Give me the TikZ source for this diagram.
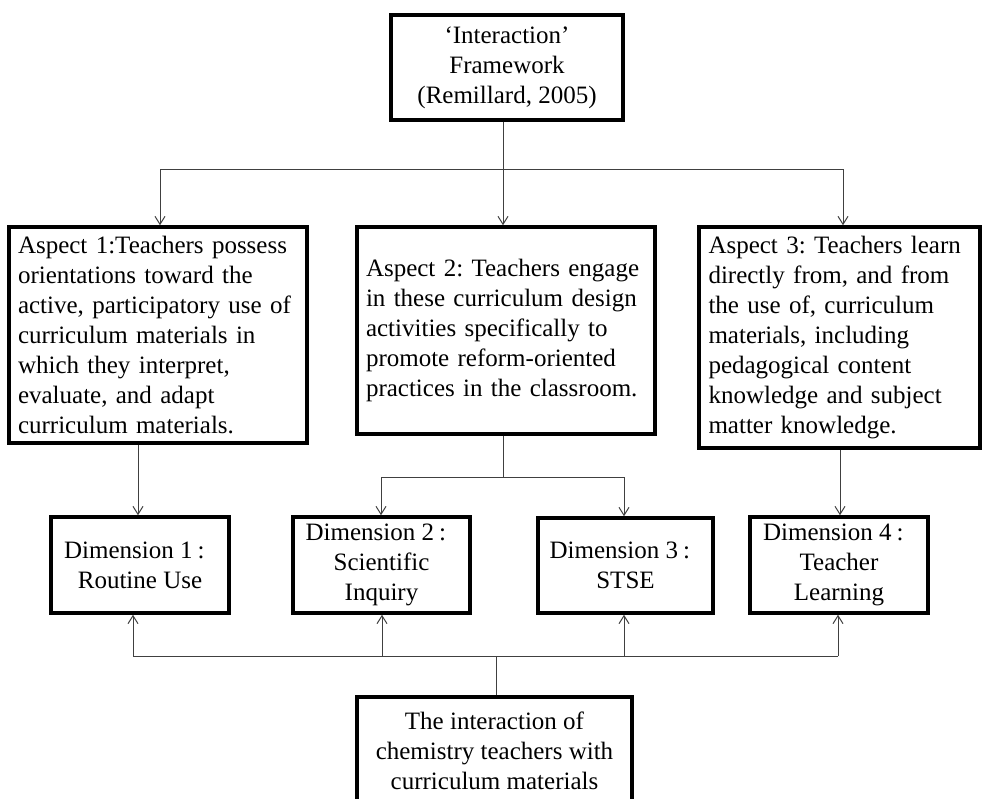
\documentclass[tikz,border=0pt]{standalone}
\usepackage{fontspec}
\setmainfont{Liberation Serif}
\usetikzlibrary{arrows.meta}
\newcommand{\fcolon}{\kern0.2em:\kern0.45em}
\frenchspacing
\begin{document}
\begin{tikzpicture}[x=1pt,y=-1pt,
  box/.style={draw, line width=3.5pt, inner sep=0pt, font=\fontsize{25}{30}\selectfont\frenchspacing},
  lbox/.style={box, align=left},
  cbox/.style={box, align=center},
  conn/.style={draw=black!75, line width=1pt},
  arr/.style={conn, -{Straight Barb[length=8pt,width=10pt]}}]
\useasboundingbox (0,0) rectangle (984,798);
\fill[white] (0,0) rectangle (984,798);

\node[cbox, minimum width=232pt, minimum height=105pt] (top) at (507,67.5)
  {‘Interaction’\\Framework\\(Remillard, 2005)};

\node[lbox, minimum width=298pt, minimum height=216pt, text width=280pt] (a1) at (158,335)
  {Aspect 1:Teachers possess\\orientations toward the\\active, participatory use of\\curriculum materials in\\which they interpret,\\evaluate, and adapt\\curriculum materials.};
\node[lbox, minimum width=298pt, minimum height=207pt, text width=280pt] (a2) at (506,330.5)
  {Aspect 2: Teachers engage\\in these curriculum design\\activities specifically to\\promote reform-oriented\\practices in the classroom.};
\node[lbox, minimum width=281pt, minimum height=221pt, text width=262pt] (a3) at (839.5,337.5)
  {Aspect 3: Teachers learn\\directly from, and from\\the use of, curriculum\\materials, including\\pedagogical content\\knowledge and subject\\matter knowledge.};

\node[cbox, minimum width=178pt, minimum height=96pt] (d1) at (140,565)
  {Dimension 1\fcolon\\Routine Use};
\node[cbox, minimum width=177pt, minimum height=96pt] (d2) at (381.5,565)
  {Dimension 2\fcolon\\Scientific\\Inquiry};
\node[cbox, minimum width=175pt, minimum height=95pt] (d3) at (625.5,565.5)
  {Dimension 3\fcolon\\STSE};
\node[cbox, minimum width=178pt, minimum height=96pt] (d4) at (839,565)
  {Dimension 4\fcolon\\Teacher\\Learning};

\node[cbox, minimum width=275pt, minimum height=108pt] (bot) at (494.5,751)
  {The interaction of\\chemistry teachers with\\curriculum materials};

% top branch
\coordinate (jt) at (503,169);
\coordinate (jt1) at (160,169);
\coordinate (jt3) at (843,169);
\draw[conn] (top.south -| jt) -- (jt);
\draw[conn] (jt1) -- (jt3);
\draw[arr] (jt1) -- (a1.north -| jt1);
\draw[arr] (jt) -- (a2.north -| jt);
\draw[arr] (jt3) -- (a3.north -| jt3);

% aspect 1 -> dimension 1
\coordinate (c1) at (138,480);
\draw[arr] (a1.south -| c1) -- (d1.north -| c1);

% aspect 2 -> dimensions 2, 3
\coordinate (jm) at (503,477);
\coordinate (jm2) at (381,477);
\coordinate (jm3) at (624,477);
\draw[conn] (a2.south -| jm) -- (jm);
\draw[conn] (jm2) -- (jm3);
\draw[arr] (jm2) -- (d2.north -| jm2);
\draw[arr] (jm3) -- (d3.north -| jm3);

% aspect 3 -> dimension 4
\coordinate (c4) at (840,480);
\draw[arr] (a3.south -| c4) -- (d4.north -| c4);

% bottom branch
\coordinate (jb) at (496,656);
\coordinate (jb1) at (133,656);
\coordinate (jb2) at (382,656);
\coordinate (jb3) at (624,656);
\coordinate (jb4) at (838,656);
\draw[conn] (bot.north -| jb) -- (jb);
\draw[conn] (jb1) -- (jb4);
\draw[arr] (jb1) -- (d1.south -| jb1);
\draw[arr] (jb2) -- (d2.south -| jb2);
\draw[arr] (jb3) -- (d3.south -| jb3);
\draw[arr] (jb4) -- (d4.south -| jb4);
\end{tikzpicture}
\end{document}
